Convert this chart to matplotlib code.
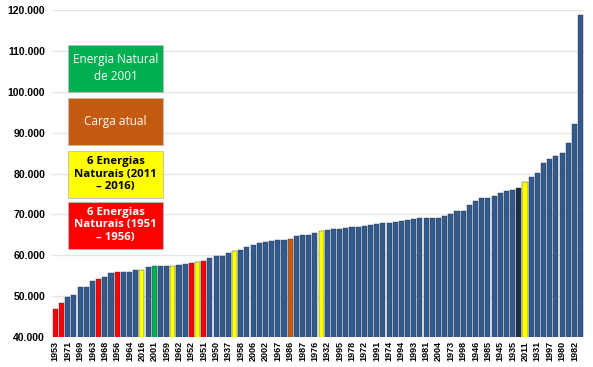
import matplotlib
matplotlib.use("Agg")
import matplotlib.pyplot as plt
import matplotlib.ticker as ticker

# energia natural sorted ascending (86 years), labels only on every other bar
values = [46800, 48200, 49700, 50200, 52200, 52200, 53800, 54200, 54600, 55700,
          55900, 56000, 56000, 56300, 56300, 57100, 57300, 57300, 57400, 57400,
          57600, 57900, 58000, 58300, 58500, 59300, 59700, 59800, 60600, 61000,
          61200, 62000, 62400, 62900, 63200, 63400, 63700, 63800, 64000, 64600,
          64900, 64900, 65500, 66000, 66200, 66400, 66500, 66600, 66900, 67000,
          67100, 67300, 67600, 67800, 67900, 68200, 68300, 68600, 68800, 69200,
          69200, 69100, 69100, 69700, 70100, 70800, 70800, 72200, 73200, 74000,
          74000, 74400, 75200, 75800, 75900, 76400, 77900, 79100, 80200, 82600,
          83600, 84200, 85000, 87400, 92200, 118700]
tick_labels = ["1953", "1971", "1969", "1963", "1968", "1956", "1964", "2016", "2001",
               "1959", "1962", "1952", "1951", "1950", "1937", "1958", "2006", "2002",
               "1967", "1986", "1987", "1976", "1932", "1995", "1978", "1972", "1991",
               "1974", "1994", "1993", "1981", "2004", "1973", "1998", "1946", "1985",
               "1945", "1935", "2011", "1931", "1997", "1980", "1982"]
red_bars = [0, 1, 7, 10, 22, 24]
yellow_bars = [14, 19, 23, 29, 43, 76]
green_bars = [16]
orange_bars = [38]
dark_bars = [75]

colors = []
for i in range(len(values)):
    if i in red_bars:
        colors.append("#FF0000")
    elif i in yellow_bars:
        colors.append("#FFFF00")
    elif i in green_bars:
        colors.append("#00B050")
    elif i in orange_bars:
        colors.append("#C55A11")
    elif i in dark_bars:
        colors.append("#1E2B40")
    else:
        colors.append("#34598A")

fig = plt.figure(figsize=(5.93, 3.67), dpi=100)
ax = fig.add_axes([52 / 593, 30 / 367, 532 / 593, 327 / 367])

x = list(range(len(values)))
ax.bar(x, values, width=0.82, color=colors, edgecolor="#22385A", linewidth=0.3, zorder=3)

ax.set_ylim(40000, 120000)
ax.set_xlim(-0.55, len(values) - 0.45)
ax.yaxis.set_major_locator(ticker.MultipleLocator(10000))
ax.yaxis.set_major_formatter(ticker.FuncFormatter(lambda v, p: f"{int(v):,}".replace(",", ".")))
ax.grid(axis="y", color="#E6E6E6", linewidth=1, zorder=0)
for s in ax.spines.values():
    s.set_visible(False)
ax.tick_params(length=0)
ax.tick_params(axis="y", pad=5)
ax.tick_params(axis="x", pad=3)
ax.set_xticks(x[::2])
ax.set_xticklabels(tick_labels, rotation=90, fontsize=6.5, fontweight="bold",
                   family="Liberation Sans")
for t in ax.get_yticklabels():
    t.set_fontsize(7.5)
    t.set_fontweight("bold")
    t.set_family("Liberation Sans")

boxes = [
    ("Energia Natural\nde 2001", "#00B050", "white", "normal", 68, 8.5, 1.3),
    ("Carga atual", "#C55A11", "white", "normal", 121, 8.5, 1.3),
    ("6 Energias\nNaturais (2011\n– 2016)", "#FFFF00", "black", "bold", 174, 8.2, 1.2),
    ("6 Energias\nNaturais (1951\n– 1956)", "#FF0000", "white", "bold", 225, 8.2, 1.2),
]
for txt, fc, tc, fw, ypix, fs, ls in boxes:
    fig.patches.append(plt.Rectangle((68 / 593, 1 - (ypix + 23.5) / 367), 95 / 593, 47 / 367,
                                     transform=fig.transFigure, facecolor=fc,
                                     edgecolor="#BBBBBB", linewidth=0.6, zorder=5))
    fig.text(115.5 / 593, 1 - ypix / 367, txt, ha="center", va="center", color=tc,
             fontsize=fs, fontweight=fw, family="Open Sans", linespacing=ls, zorder=6)

plt.savefig("out.png", dpi=100)
